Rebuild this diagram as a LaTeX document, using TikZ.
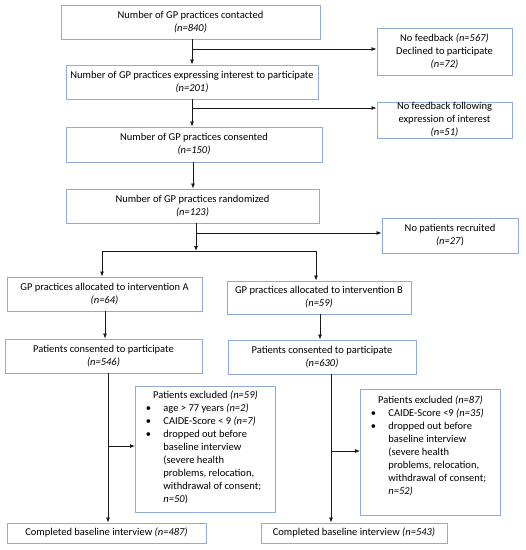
\documentclass[tikz,border=0pt]{standalone}
\usepackage{fontspec}
\setmainfont{Carlito}
\usetikzlibrary{arrows.meta,calc}
\definecolor{boxblue}{RGB}{143,170,220}
\definecolor{linegray}{RGB}{25,25,25}
\tikzset{
  fbox/.style={draw=boxblue, line width=0.9pt, inner sep=0pt, align=center,
    font=\fontsize{10.5}{13}\selectfont, text=black},
  arr/.style={draw=linegray, line width=0.8pt, -{Latex[length=5pt,width=4pt]}},
  ln/.style={draw=linegray, line width=0.8pt}
}
\begin{document}
\begin{tikzpicture}[x=1pt,y=-1pt]
\useasboundingbox[fill=white] (0,0) rectangle (526,550);
% main column
\node[fbox, minimum width=259pt, minimum height=34pt] (b1) at (190.5,22)
  {Number of GP practices contacted\\\textit{(n=840)}};
\node[fbox, minimum width=135pt, minimum height=47pt] (r1) at (444.5,51.5)
  {No feedback \textit{(n=567)}\\Declined to participate\\\textit{(n=72)}};
\node[fbox, minimum width=252pt, minimum height=34pt] (b2) at (192,82)
  {Number of GP practices expressing interest to participate\\\textit{(n=201)}};
\node[fbox, minimum width=135pt, minimum height=36pt] (r2) at (444.5,120)
  {No feedback following\\expression of interest\\\textit{(n=51)}};
\node[fbox, minimum width=256pt, minimum height=35pt] (b3) at (194,144.5)
  {Number of GP practices consented\\\textit{(n=150)}};
\node[fbox, minimum width=253pt, minimum height=34pt] (b4) at (192.5,206)
  {Number of GP practices randomized\\\textit{(n=123)}};
\node[fbox, minimum width=136pt, minimum height=35pt] (r3) at (450,235.5)
  {No patients recruited\\\textit{(n=27})};
% arms
\node[fbox, minimum width=195pt, minimum height=34pt] (A1) at (104.5,294)
  {GP practices allocated to intervention A\\\textit{(n=64)}};
\node[fbox, minimum width=184pt, minimum height=33pt] (B1) at (319,297.5)
  {GP practices allocated to intervention B\\\textit{(n=59)}};
\node[fbox, minimum width=197pt, minimum height=34pt] (A2) at (103.5,356)
  {Patients consented to participate\\\textit{(n=546)}};
\node[fbox, minimum width=188pt, minimum height=34pt] (B2) at (322,357)
  {Patients consented to participate\\\textit{(n=630)}};
\node[fbox, minimum width=199pt, minimum height=20pt] (A3) at (106.5,533)
  {Completed baseline interview \textit{(n=487)}};
\node[fbox, minimum width=186pt, minimum height=20pt] (B3) at (354,533)
  {Completed baseline interview \textit{(n=543)}};
\node[fbox, anchor=north west, minimum width=140pt, minimum height=126pt] (EA) at (135,386)
  {\parbox[c][126pt][t]{140pt}{\vspace*{3pt}%
   \begin{tabular}{@{\hspace{10.5pt}}p{17.5pt}@{}p{112pt}@{}}
   \multicolumn{2}{@{}c@{}}{Patients excluded \textit{(n=59)}}\\
   \textbullet & age > 77 years \textit{(n=2)}\\
   \textbullet & CAIDE-Score < 9 \textit{(n=7)}\\
   \textbullet & dropped out before\\
   & baseline interview\\
   & (severe health\\
   & problems, relocation,\\
   & withdrawal of consent;\\
   & \textit{n=50})
   \end{tabular}}};
\node[fbox, anchor=north west, minimum width=140pt, minimum height=126pt] (EB) at (360,389)
  {\parbox[c][126pt][t]{140pt}{\vspace*{5pt}%
   \begin{tabular}{@{\hspace{10.5pt}}p{17.5pt}@{}p{112pt}@{}}
   \multicolumn{2}{@{}c@{}}{Patients excluded \textit{(n=87)}}\\
   \textbullet & CAIDE-Score <9 \textit{(n=35)}\\
   \textbullet & dropped out before\\
   & baseline interview\\
   & (severe health\\
   & problems, relocation,\\
   & withdrawal of consent;\\
   & \textit{n=52)}
   \end{tabular}}};
% junction coordinates
\coordinate (j1) at (192,49);
\coordinate (j2) at (192,108);
\coordinate (j3) at (196,233);
\coordinate (sp) at (196,251);
\coordinate (spL) at (102,251);
\coordinate (spR) at (316,251);
\coordinate (jA) at (108,446);
\coordinate (jB) at (331,451);
% connectors
\draw[arr] (b1.south -| j1) -- (b2.north -| j1);
\draw[arr] (j1) -- (j1 -| r1.west);
\draw[arr] (b2.south -| j2) -- (b3.north -| j2);
\draw[arr] (j2) -- (j2 -| r2.west);
\draw[arr] (b3.south -| 193,0) -- (b4.north -| 193,0);
\draw[ln] (b4.south -| j3) -- (j3);
\draw[arr] (j3) -- (sp);
\draw[arr] (j3) -- (j3 -| r3.west);
\draw[ln] (spL) -- (spR);
\draw[arr] (spL) -- (A1.north -| spL);
\draw[arr] (spR) -- (B1.north -| spR);
\draw[arr] (A1.south -| 105,0) -- (A2.north -| 105,0);
\draw[arr] (B1.south -| 320,0) -- (B2.north -| 320,0);
\draw[arr] (A2.south -| jA) -- (A3.north -| jA);
\draw[arr] (jA) -- (jA -| EA.west);
\draw[arr] (B2.south -| jB) -- (B3.north -| jB);
\draw[arr] (jB) -- (jB -| EB.west);
\end{tikzpicture}
\end{document}
